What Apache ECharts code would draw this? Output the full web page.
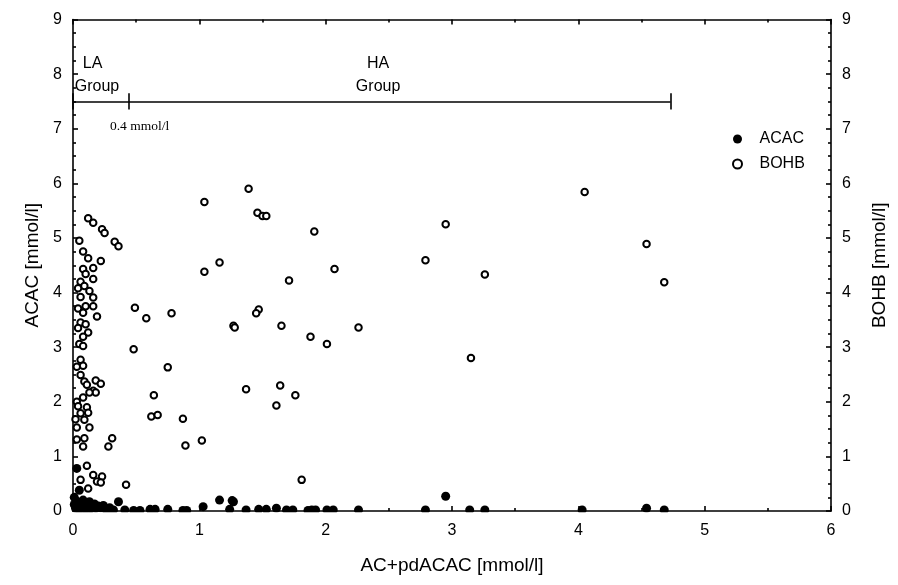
<!DOCTYPE html>
<html><head><meta charset="utf-8">
<script src="https://cdn.jsdelivr.net/npm/echarts@6/dist/echarts.min.js"></script>
<style>html,body{margin:0;padding:0;background:#fff}#c{width:898px;height:585px}</style>
</head><body><div id="c"></div>
<script>
const seriesNames = ['ACAC', 'BOHB'];
const xTickValues = [0, 1, 2, 3, 4, 5, 6];
const yTickValues = [0, 1, 2, 3, 4, 5, 6, 7, 8, 9];

const acacPoints = [
  [0.01,0.12],[0.02,0.05],[0.03,0.18],[0.04,0.10],[0.05,0.02],[0.06,0.15],[0.07,0.07],[0.08,0.20],
  [0.09,0.11],[0.10,0.03],[0.11,0.14],[0.12,0.08],[0.13,0.17],[0.14,0.04],[0.15,0.10],[0.17,0.13],
  [0.18,0.05],[0.20,0.09],[0.22,0.06],[0.24,0.10],[0.26,0.03],[0.29,0.06],[0.32,0.02],[0.01,0.25],
  [0.03,0.78],[0.05,0.38],[0.36,0.17],[1.16,0.20],[1.26,0.19],[1.27,0.17],[2.95,0.27],
  [0.27,0.02],[0.41,0.02],[0.48,0.01],[0.53,0.01],[0.61,0.03],[0.65,0.03],[0.75,0.03],[0.87,0.01],
  [0.90,0.01],[1.03,0.08],[1.24,0.03],[1.37,0.02],[1.47,0.03],[1.53,0.03],[1.61,0.05],[1.69,0.02],
  [1.74,0.02],[1.86,0.01],[1.89,0.02],[1.92,0.02],[2.01,0.02],[2.06,0.02],[2.26,0.02],[2.79,0.02],
  [3.14,0.02],[3.26,0.02],[4.03,0.02],[4.54,0.05],[4.68,0.02]
];

const bohbPoints = [
  [0.12,5.36],[0.16,5.28],[0.23,5.16],[0.25,5.09],[0.33,4.93],[0.36,4.85],[0.05,4.95],[0.08,4.75],[0.12,4.63],[0.22,4.58],
  [0.08,4.43],[0.16,4.45],[0.10,4.34],[0.16,4.25],[0.06,4.20],[0.09,4.12],[0.04,4.08],[0.13,4.03],[0.06,3.92],[0.16,3.91],
  [0.04,3.71],[0.10,3.75],[0.16,3.75],[0.08,3.63],[0.19,3.56],[0.49,3.72],[0.58,3.53],[0.78,3.62],[0.06,3.45],[0.04,3.35],
  [0.10,3.42],[0.12,3.27],[0.08,3.19],[0.05,3.06],[0.08,3.02],[0.48,2.96],[0.06,2.77],[0.03,2.64],[0.08,2.66],[0.75,2.63],
  [0.06,2.49],[0.09,2.37],[0.18,2.39],[0.22,2.33],[0.11,2.31],[0.16,2.20],[0.18,2.17],[0.13,2.17],[0.08,2.08],[0.03,2.00],
  [0.04,1.92],[0.11,1.90],[0.12,1.80],[0.06,1.79],[0.09,1.67],[0.02,1.68],[0.13,1.53],[0.03,1.53],[0.64,2.12],[0.62,1.73],
  [0.67,1.76],[0.03,1.31],[0.09,1.33],[0.31,1.33],[0.08,1.18],[0.28,1.18],[0.11,0.83],[0.06,0.57],[0.16,0.66],[0.23,0.63],
  [0.19,0.54],[0.22,0.52],[0.12,0.41],[0.42,0.48],
  [1.04,4.38],[1.16,4.55],[1.71,4.22],[1.91,5.12],[2.07,4.43],[1.04,5.66],[1.46,5.46],[1.39,5.90],[1.50,5.40],[1.53,5.40],
  [1.27,3.39],[1.28,3.36],[1.47,3.69],[1.45,3.62],[1.65,3.39],[1.88,3.19],[2.01,3.06],[2.26,3.36],
  [1.37,2.23],[1.64,2.30],[1.76,2.12],[1.61,1.93],[0.87,1.69],[0.89,1.20],[1.02,1.29],[1.81,0.57],
  [2.79,4.59],[2.95,5.25],[3.26,4.33],[3.15,2.80],[4.05,5.84],[4.54,4.89],[4.68,4.19]
];

// group annotation (data units)
const groupLineY = 7.5;
const groupStartX = 0;
const laBoundaryX = 0.44;
const haEndX = 4.73;
const capHalf = 0.15;
const annotTexts = [
  { name: 'LA', coord: [0.155, 8.19] },
  { name: 'Group', coord: [0.19, 7.77] },
  { name: 'HA', coord: [2.415, 8.2] },
  { name: 'Group', coord: [2.415, 7.77] }
];
const thresholdText = { name: '0.4 mmol/l', coord: [0.527, 7.05] };

const FONT = "'Liberation Sans', Arial, sans-serif";
const SERIF = "'Liberation Serif', 'Times New Roman', serif";
const GRID = { left: 73, right: 67, top: 19.5, bottom: 74 };

const axisLineStyle = { color: '#000', width: 1.6 };
function xAx(pos, showLabel) {
  return {
    type: 'value', position: pos, min: xTickValues[0], max: xTickValues[xTickValues.length - 1], interval: 1,
    axisLine: { show: true, onZero: false, lineStyle: axisLineStyle },
    axisTick: { show: true, inside: true, length: 5, lineStyle: axisLineStyle },
    minorTick: { show: true, splitNumber: 2, length: 3, lineStyle: axisLineStyle },
    axisLabel: { show: showLabel, color: '#000', fontSize: 16, fontFamily: FONT, margin: 12 },
    splitLine: { show: false }, minorSplitLine: { show: false }
  };
}
function yAx(pos, name, gap) {
  return {
    type: 'value', position: pos, min: yTickValues[0], max: yTickValues[yTickValues.length - 1], interval: 1,
    axisLine: { show: true, onZero: false, lineStyle: axisLineStyle },
    axisTick: { show: true, inside: true, length: 5, lineStyle: axisLineStyle },
    minorTick: { show: true, splitNumber: 4, length: 3, lineStyle: axisLineStyle },
    axisLabel: { color: '#000', fontSize: 16, fontFamily: FONT, margin: 11 },
    splitLine: { show: false },
    name: name, nameLocation: 'middle', nameGap: gap, nameRotate: 90,
    nameTextStyle: { color: '#000', fontSize: 19, fontFamily: FONT }
  };
}

const xBottom = xAx('bottom', true);
xBottom.name = 'AC+pdACAC [mmol/l]';
xBottom.nameLocation = 'middle';
xBottom.nameGap = 45;
xBottom.nameTextStyle = { color: '#000', fontSize: 19, fontFamily: FONT };

const capLine = (x) => [{ coord: [x, groupLineY - capHalf] }, { coord: [x, groupLineY + capHalf] }];

const chart = echarts.init(document.getElementById('c'), null, { renderer: 'canvas' });
chart.setOption({
  animation: false,
  backgroundColor: '#fff',
  grid: GRID,
  xAxis: [xBottom, xAx('top', false)],
  yAxis: [yAx('left', 'ACAC [mmol/l]', 31), yAx('right', 'BOHB [mmol/l]', 39)],
  legend: {
    data: seriesNames, orient: 'vertical', left: 727, top: 126, itemWidth: 34, itemHeight: 9, itemGap: 9,
    textStyle: { color: '#000', fontSize: 16, fontFamily: FONT }
  },
  graphic: [{
    type: 'rect', silent: true, z: 100,
    shape: { x: GRID.left - 12, y: 585 - GRID.bottom + 1.3, width: 898 - GRID.left - GRID.right + 24, height: 8 },
    style: { fill: '#fff' }
  }],
  series: [
    {
      name: seriesNames[0], type: 'scatter', xAxisIndex: 0, yAxisIndex: 0,
      symbol: 'circle', symbolSize: 9,
      itemStyle: { color: '#000', opacity: 1 },
      data: acacPoints, z: 3,
      markLine: {
        silent: true, symbol: ['none', 'none'], label: { show: false },
        lineStyle: { color: '#000', width: 1.6, type: 'solid', opacity: 1 },
        emphasis: { disabled: true },
        data: [
          [{ coord: [groupStartX, groupLineY] }, { coord: [haEndX, groupLineY] }],
          capLine(groupStartX), capLine(laBoundaryX), capLine(haEndX)
        ]
      },
      markPoint: {
        silent: true, symbol: 'circle', symbolSize: 0,
        label: { show: true, position: 'inside', color: '#000', fontSize: 16, fontFamily: FONT, formatter: p => p.name },
        data: annotTexts.concat([{
          name: thresholdText.name, coord: thresholdText.coord,
          label: { fontFamily: SERIF, fontSize: 13.5, color: '#000' }
        }])
      }
    },
    {
      name: seriesNames[1], type: 'scatter', xAxisIndex: 0, yAxisIndex: 1,
      symbol: 'circle', symbolSize: 6.5,
      itemStyle: { color: '#fff', borderColor: '#000', borderWidth: 2, opacity: 1 },
      data: bohbPoints, z: 4
    }
  ]
});
</script>
</body></html>
